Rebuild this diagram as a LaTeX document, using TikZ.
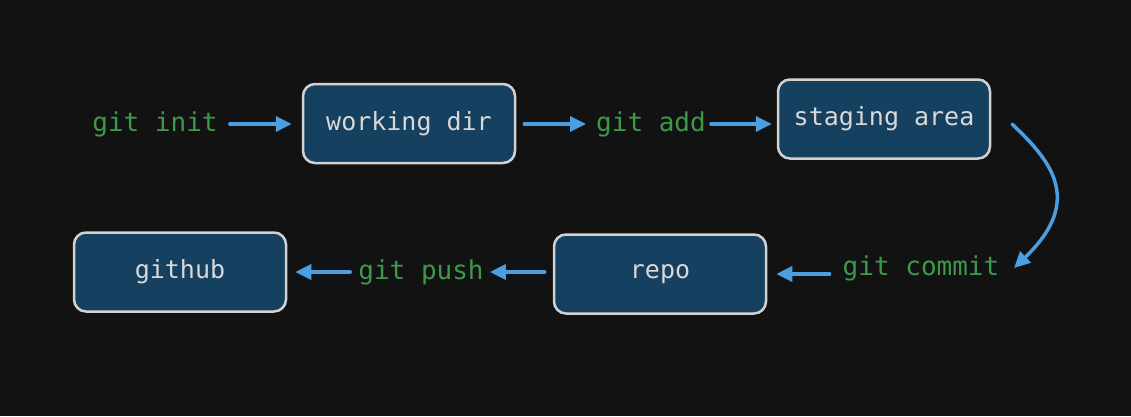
\documentclass[tikz,border=0pt]{standalone}
\usepackage{fontspec}
\setmonofont{DejaVu Sans Mono}
\usetikzlibrary{arrows.meta}
\definecolor{bg}{HTML}{121212}
\definecolor{boxfill}{HTML}{16405F}
\definecolor{boxline}{HTML}{D2D2D2}
\definecolor{boxtext}{HTML}{D8D8D8}
\definecolor{cmdgreen}{HTML}{3A9A4A}
\definecolor{arrowblue}{HTML}{4A9EE2}
\tikzset{
  stagebox/.style={draw=boxline, line width=2.5pt, fill=boxfill, rounded corners=12pt,
    minimum width=212pt, minimum height=79pt, text=boxtext, font=\fontsize{25}{29}\selectfont\ttfamily, inner sep=0pt},
  cmd/.style={text=cmdgreen, font=\fontsize{26}{30}\selectfont\ttfamily, inner sep=0pt},
  flow/.style={draw=arrowblue, line width=3.5pt, -{Triangle[length=16pt,width=15pt]}, line cap=round}
}
\begin{document}
\begin{tikzpicture}[x=1pt,y=-1pt]
\fill[bg] (0,0) rectangle (1131,416);
\useasboundingbox (0,0) rectangle (1131,416);
\node[stagebox] (wd) at (409,123.5) {working dir};
\node[stagebox] (sa) at (884,119) {staging area};
\node[stagebox] (gh) at (180,272) {github};
\node[stagebox] (repo) at (660,274) {repo};
\node[cmd] (init) at (155,124) {git init};
\node[cmd] (add) at (651,124) {git add};
\node[cmd] (commit) at (921,268) {git commit};
\node[cmd] (push) at (421,272) {git push};
\coordinate (sa1) at (1012,124);
\coordinate (cm1) at (1014,268);
\draw[flow, shorten <=12pt, shorten >=10pt] (init.east) -- (wd.west |- init.east);
\draw[flow, shorten <=8pt, shorten >=10pt] (wd.east |- add.west) -- (add.west);
\draw[flow, shorten <=5pt, shorten >=5pt] (add.east) -- (sa.west |- add.east);
\draw[flow] (sa1) .. controls (1050,160) and (1085,200) .. (cm1);
\draw[flow, shorten <=13pt, shorten >=9pt] (commit.west |- repo.east) -- (repo.east);
\draw[flow, shorten <=8pt, shorten >=6pt] (repo.west |- push.east) -- (push.east);
\draw[flow, shorten <=8pt, shorten >=8pt] (push.west) -- (gh.east |- push.west);
\end{tikzpicture}
\end{document}
